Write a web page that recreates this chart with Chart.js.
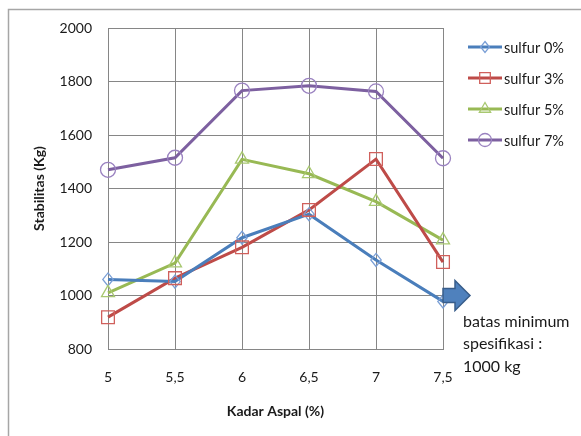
<!DOCTYPE html>
<html><head><meta charset="utf-8">
<script src="https://cdn.jsdelivr.net/npm/chart.js@4.4.0/dist/chart.umd.min.js"></script>
<style>html,body{margin:0;padding:0;background:#fff;}#wrap{position:relative;width:581px;height:436px;}</style>
</head><body><div id="wrap"><canvas id="c" width="581" height="436"></canvas></div>
<script>
const categories = ['5','5,5','6','6,5','7','7,5'];
const seriesNames = ['sulfur 0%','sulfur 3%','sulfur 5%','sulfur 7%'];
const sulfur0 = [1060,1052,1216,1304,1133,978];
const sulfur3 = [919,1065,1180,1320,1510,1125];
const sulfur5 = [1010,1121,1509,1455,1351,1207];
const sulfur7 = [1470,1515,1766,1784,1763,1513];
const yMin = 800, yMax = 2000, yStep = 200;
const noteLines = ['batas minimum','spesifikasi :','1000 kg'];
const noteValue = 1000;
const xTitle = 'Kadar Aspal (%)';
const yTitle = 'Stabilitas (Kg)';

const FONT = 'Lato, "Open Sans", sans-serif';
const styles = [
  {line:'#4A7EBB', mark:'#7A9FD6', shape:'rectRot', r:6.5, lr:5.5},
  {line:'#BE4B48', mark:'#D0605C', shape:'rect', r:9, lr:7.5},
  {line:'#98B954', mark:'#A8C870', shape:'triangle', r:7.5, lr:6.5},
  {line:'#7D60A0', mark:'#9A82C0', shape:'circle', r:7.5, lr:6.5}
];
const values = [sulfur0, sulfur3, sulfur5, sulfur7];

function marker(ctx, shape, x, y, r){
  ctx.beginPath();
  if(shape==='circle'){ctx.arc(x,y,r,0,Math.PI*2);}
  else if(shape==='rect'){const s=r*Math.SQRT1_2;ctx.rect(x-s,y-s,2*s,2*s);}
  else if(shape==='rectRot'){ctx.moveTo(x,y-r);ctx.lineTo(x+r*0.8,y);ctx.lineTo(x,y+r);ctx.lineTo(x-r*0.8,y);ctx.closePath();}
  else if(shape==='triangle'){ctx.moveTo(x,y-r);ctx.lineTo(x+r*0.866,y+r*0.5);ctx.lineTo(x-r*0.866,y+r*0.5);ctx.closePath();}
  ctx.stroke();
}

const extras = {
  id:'extras',
  beforeDraw(chart){
    const {ctx,width,height}=chart;
    ctx.save();
    ctx.fillStyle='#fff';ctx.fillRect(0,0,width,height);
    ctx.strokeStyle='#a6a6a6';ctx.lineWidth=1.5;
    ctx.beginPath();ctx.moveTo(8.5,height);ctx.lineTo(8.5,9.5);ctx.lineTo(width,9.5);ctx.stroke();
    ctx.restore();
  },
  afterDatasetsDraw(chart){
    const {ctx}=chart;
    ctx.save();
    chart.data.datasets.forEach((ds,i)=>{
      const meta=chart.getDatasetMeta(i);
      ctx.strokeStyle=styles[i].mark;ctx.lineWidth=1.3;
      meta.data.forEach(p=>marker(ctx,styles[i].shape,p.x,p.y,styles[i].r));
    });
    // legend
    chart.data.datasets.forEach((ds,i)=>{
      const y=47+31*i;
      ctx.strokeStyle=styles[i].line;ctx.lineWidth=3;
      ctx.beginPath();ctx.moveTo(468,y);ctx.lineTo(502,y);ctx.stroke();
      ctx.strokeStyle=styles[i].mark;ctx.lineWidth=1.3;
      marker(ctx,styles[i].shape,485,y,styles[i].lr);
      ctx.fillStyle='#1a1a1a';ctx.font='14.5px '+FONT;ctx.textBaseline='middle';ctx.textAlign='left';
      ctx.fillText(ds.label,504,y+1);
    });
    // arrow
    const xs=chart.scales.x.getPixelForValue(categories.length-1);
    const ys=chart.scales.y.getPixelForValue(noteValue);
    ctx.beginPath();
    ctx.moveTo(xs,ys-7);ctx.lineTo(xs+12,ys-7);ctx.lineTo(xs+12,ys-15);ctx.lineTo(xs+27,ys);
    ctx.lineTo(xs+12,ys+15);ctx.lineTo(xs+12,ys+7);ctx.lineTo(xs,ys+7);ctx.closePath();
    ctx.fillStyle='#4F81BD';ctx.fill();ctx.strokeStyle='#385D8A';ctx.lineWidth=1.5;ctx.stroke();
    ctx.fillStyle='#1a1a1a';ctx.font='16px '+FONT;ctx.textBaseline='middle';ctx.textAlign='left';
    noteLines.forEach((t,k)=>ctx.fillText(t,xs+20,ys+26+22.5*k));
    ctx.restore();
  }
};

new Chart(document.getElementById('c'),{
  type:'line',
  data:{labels:categories,datasets:values.map((v,i)=>({
    label:seriesNames[i],data:v,borderColor:styles[i].line,borderWidth:3,
    pointRadius:0,pointHoverRadius:0,tension:0,fill:false
  }))},
  options:{
    responsive:false,animation:false,devicePixelRatio:1,
    layout:{padding:{left:0,top:28,right:138,bottom:0}},
    plugins:{legend:{display:false},tooltip:{enabled:false}},
    scales:{
      x:{type:'category',offset:false,
        grid:{color:'#868686',lineWidth:1,drawTicks:false},
        border:{color:'#868686'},
        ticks:{padding:20,color:'#1a1a1a',font:{family:FONT,size:14},maxRotation:0,autoSkip:false},
        title:{display:true,text:xTitle,color:'#1a1a1a',font:{family:FONT,size:14,weight:'bold'},padding:{top:0,bottom:16.6}},
        afterFit(s){s.height=87;}
      },
      y:{min:yMin,max:yMax,
        grid:{color:'#868686',lineWidth:1,drawTicks:false},
        border:{color:'#868686'},
        ticks:{stepSize:yStep,padding:16,color:'#1a1a1a',font:{family:FONT,size:14},callback:v=>String(v)},
        title:{display:true,text:yTitle,color:'#1a1a1a',font:{family:FONT,size:14,weight:'bold'},padding:{top:31,bottom:0}},
        afterFit(s){s.width=108;}
      }
    }
  },
  plugins:[extras]
});
</script>
</body></html>
